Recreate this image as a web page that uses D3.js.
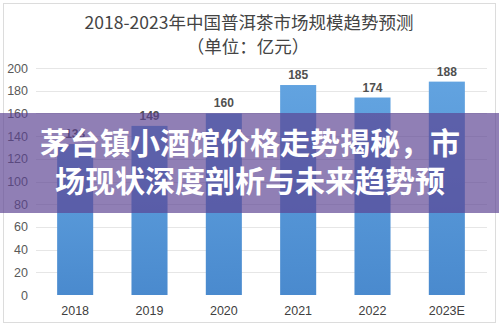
<!DOCTYPE html>
<html>
<head>
<meta charset="utf-8">
<script src="https://cdn.jsdelivr.net/npm/d3@7"></script>
<style>
  html, body { margin: 0; padding: 0; background: #fff; }
  svg { display: block; }
</style>
</head>
<body>
<svg id="chart" width="499" height="327"></svg>
<script>
// Market size by year (亿元)
const years = ["2018", "2019", "2020", "2021", "2022", "2023E"];
const values = [133, 149, 160, 185, 174, 188];
const yTicks = [0, 20, 40, 60, 80, 100, 120, 140, 160, 180, 200];
const titleText = "2018-2023年中国普洱茶市场规模趋势预测";
const unitText = "（单位：亿元）";
const bannerLines = ["茅台镇小酒馆价格走势揭秘，市", "场现状深度剖析与未来趋势预"];

const W = 499, H = 327;
const svg = d3.select("#chart");
const cjk = "'Noto Sans CJK SC', 'Noto Sans', sans-serif";

// outer frame
svg.append("rect")
  .attr("x", 3.5).attr("y", 3.5).attr("width", W - 7).attr("height", H - 8)
  .attr("fill", "#fff").attr("stroke", "#dcdcdc").attr("stroke-width", 1);

// titles
svg.append("text").attr("x", 249).attr("y", 29)
  .attr("text-anchor", "middle").attr("font-family", cjk)
  .attr("font-size", 17.5).attr("fill", "#444").text(titleText);
svg.append("text").attr("x", 248).attr("y", 53)
  .attr("text-anchor", "middle").attr("font-family", cjk)
  .attr("font-size", 17.5).attr("fill", "#444").text(unitText);

// scales
const x = d3.scaleBand().domain(years).range([38, 484]).paddingInner(0.515).paddingOuter(0.2575);
const y = d3.scaleLinear().domain([0, 200]).range([295, 68]);

// gridlines
svg.append("g").selectAll("line").data(yTicks.filter(d => d > 0)).join("line")
  .attr("x1", 36).attr("x2", 487)
  .attr("y1", d => Math.round(y(d)) + 0.5).attr("y2", d => Math.round(y(d)) + 0.5)
  .attr("stroke", "#e6e6e6").attr("stroke-width", 1);

// y axis labels
const yAxis = d3.axisLeft(y).tickValues(yTicks).tickSize(0).tickPadding(0);
const gy = svg.append("g").attr("transform", "translate(28,0)").call(yAxis);
gy.select(".domain").remove();
gy.selectAll("text").attr("font-family", "'Liberation Sans', Arial, sans-serif")
  .attr("font-size", 12.5).attr("fill", "#595959");

// bar gradient
const grad = svg.append("defs").append("linearGradient")
  .attr("id", "barGrad").attr("x1", 0).attr("y1", 0).attr("x2", 0).attr("y2", 1);
grad.append("stop").attr("offset", "0%").attr("stop-color", "#62a3e0");
grad.append("stop").attr("offset", "100%").attr("stop-color", "#4a8ace");

// bars
svg.append("g").selectAll("rect").data(values).join("rect")
  .attr("x", (d, i) => x(years[i])).attr("width", x.bandwidth())
  .attr("y", d => y(d)).attr("height", d => y(0) - y(d))
  .attr("fill", "url(#barGrad)");

// value labels
svg.append("g").selectAll("text").data(values).join("text")
  .attr("x", (d, i) => x(years[i]) + x.bandwidth() / 2)
  .attr("y", d => y(d) - 6)
  .attr("text-anchor", "middle").attr("font-family", "'Liberation Sans', Arial, sans-serif")
  .attr("font-size", 12).attr("font-weight", "bold").attr("fill", "#505050")
  .text(d => d);

// x axis labels
const xAxis = d3.axisBottom(x).tickSize(0).tickPadding(0);
const gx = svg.append("g").attr("transform", "translate(0,306)").call(xAxis);
gx.select(".domain").remove();
gx.selectAll("text").attr("font-family", "'Liberation Sans', Arial, sans-serif")
  .attr("font-size", 12.5).attr("fill", "#404040");

// headline banner
svg.append("rect").attr("x", 0).attr("y", 113).attr("width", W).attr("height", 100)
  .attr("fill", "rgb(92,66,146)").attr("fill-opacity", 0.68);
svg.append("g").selectAll("text").data(bannerLines).join("text")
  .attr("x", 250).attr("y", (d, i) => 153.5 + i * 38.5)
  .attr("text-anchor", "middle").attr("font-family", cjk)
  .attr("font-size", 30).attr("font-weight", "bold").attr("fill", "#fff")
  .text(d => d);
</script>
</body>
</html>
